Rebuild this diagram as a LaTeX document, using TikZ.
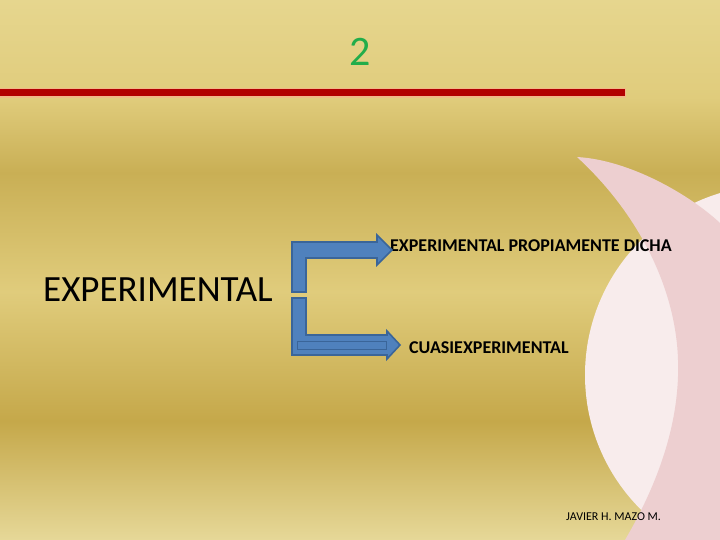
\documentclass[tikz,border=0pt]{standalone}
\usepackage{fontspec}
\setmainfont{Carlito}

\definecolor{bgA}{HTML}{E6D898}
\definecolor{bgB}{HTML}{C5A84A}
\definecolor{bgC}{HTML}{E0CC7C}
\definecolor{bgD}{HTML}{C9AF55}
\definecolor{bgE}{HTML}{E6D68E}
\definecolor{rosa}{HTML}{EDCFD0}
\definecolor{rosaclaro}{HTML}{F8ECEC}
\definecolor{rojo}{HTML}{B20000}
\definecolor{brillo}{HTML}{F0B888}
\definecolor{verde}{HTML}{22AD4A}
\definecolor{azul}{HTML}{4F81BD}
\definecolor{azulborde}{HTML}{3A6599}

\pgfdeclareverticalshading{fondo}{100bp}{color(0bp)=(bgA); color(25bp)=(bgA); color(36bp)=(bgB); color(48bp)=(bgC); color(59bp)=(bgD); color(66bp)=(bgC); color(75bp)=(bgE); color(100bp)=(bgE)}

\begin{document}
\begin{tikzpicture}[x=1pt,y=-1pt,flecha/.style={fill=azul,draw=azulborde,line width=1.6pt,line join=miter},etiq/.style={anchor=west,inner sep=0pt,font=\bfseries\fontsize{18}{20}\selectfont},grande/.style={anchor=west,inner sep=0pt,font=\fontsize{37}{40}\selectfont},pie/.style={anchor=west,inner sep=0pt,font=\fontsize{12}{14}\selectfont}]
\clip (0,0) rectangle (720,540);
\shade[shading=fondo] (0,0) rectangle (720,540);

% decoracion rosa
\fill[rosaclaro] (775,375) circle[radius=190];
\fill[rosa] (577,157) .. controls (630,160) and (690,195) .. (720,223) -- (720,540) -- (625,540)
  .. controls (660,480) and (680,420) .. (678,360) .. controls (676,290) and (640,215) .. (577,157) -- cycle;

% titulo y linea
\node[text=verde,font=\fontsize{42}{46}\selectfont] (num) at (360,52) {2};
\draw[brillo,line width=10pt] (0,93) -- (626,93);
\draw[rojo,line width=7pt] (0,93) -- (625,93);

\node[grande] (exp) at (43,290) {EXPERIMENTAL};
\node[etiq] (prop) at (390,246) {EXPERIMENTAL PROPIAMENTE DICHA};
\node[etiq] (cuasi) at (409,348) {CUASIEXPERIMENTAL};

% flechas
\draw[flecha] (292,292) -- (292,242) -- (377,242) -- (377,235) -- (392,250) -- (377,265) -- (377,258) -- (306,258) -- (306,292) -- cycle;
\draw[flecha] (292,298) -- (306,298) -- (306,335) -- (387,335) -- (387,331) -- (400,345) -- (387,359) -- (387,355) -- (292,355) -- cycle;
\draw[azulborde,line width=1pt] (297,341) rectangle (386,349);

\node[pie] (autor) at (566,517) {JAVIER H. MAZO M.};
\end{tikzpicture}
\end{document}
